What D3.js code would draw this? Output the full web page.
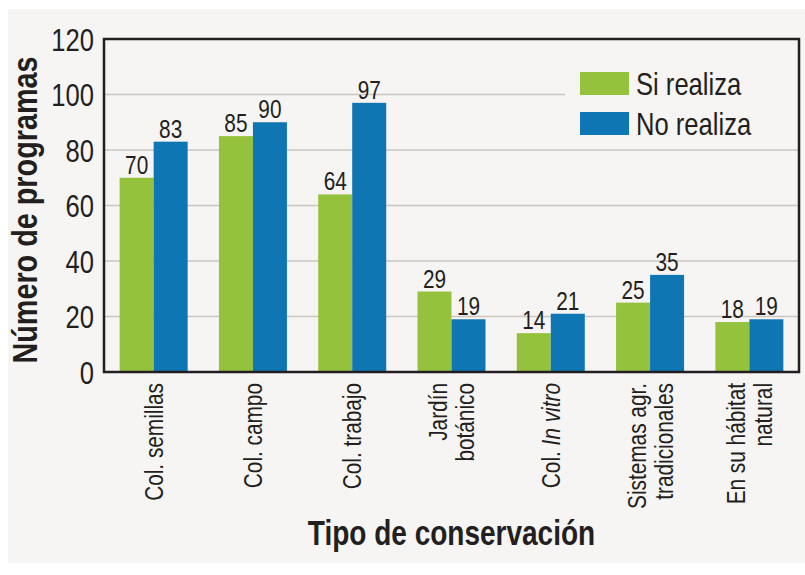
<!DOCTYPE html>
<html>
<head>
<meta charset="utf-8">
<script src="https://cdn.jsdelivr.net/npm/d3@7"></script>
<style>
  body { margin: 0; background: #fff; }
  text { font-family: "Liberation Sans", Arial, sans-serif; fill: #231f20; }
</style>
</head>
<body>
<div id="chart"></div>
<script>
// Data
const categories = ["Col. semillas", "Col. campo", "Col. trabajo", "Jardín botánico",
  "Col. In vitro", "Sistemas agr. tradicionales", "En su hábitat natural"];
// tick labels split into lines, *...* = italic
const tickLabels = [["Col. semillas"], ["Col. campo"], ["Col. trabajo"], ["Jardín", "botánico"],
  ["Col. *In vitro*"], ["Sistemas agr.", "tradicionales"], ["En su hábitat", "natural"]];
const siRealiza = [70, 85, 64, 29, 14, 25, 18];
const noRealiza = [83, 90, 97, 19, 21, 35, 19];
const seriesNames = ["Si realiza", "No realiza"];
const yTicks = [0, 20, 40, 60, 80, 100, 120];

const colors = ["#95c23d", "#0e77b3"];

const W = 805, H = 575;
const plot = { left: 104, right: 799, top: 39, bottom: 372 };
const narrow = 0.8; // the original type is condensed, squeeze the regular face

const svg = d3.select("#chart").append("svg")
  .attr("width", W)
  .attr("height", H);

// light panel behind everything
svg.append("rect")
  .attr("x", 8).attr("y", 9)
  .attr("width", W - 8).attr("height", 554)
  .attr("fill", "#f6f5f3");

const y = d3.scaleLinear().domain([0, 120]).range([plot.bottom, plot.top]);
const x = d3.scaleBand().domain(categories).range([plot.left, plot.right]).padding(0);
const barW = 34;
const xs = d3.scaleBand().domain(seriesNames)
  .range([x.bandwidth() / 2 - barW, x.bandwidth() / 2 + barW]).padding(0);

// legend position
const legendX = 580, legendY = 72;

// gridlines (the 100 line stops before the legend)
svg.append("g").selectAll("line")
  .data(yTicks.filter(t => t > 0 && t < 120))
  .join("line")
  .attr("x1", plot.left)
  .attr("x2", d => d === 100 ? legendX - 15 : plot.right)
  .attr("y1", d => y(d))
  .attr("y2", d => y(d))
  .attr("stroke", "#cbc6c2")
  .attr("stroke-width", 1.5);

// bars
const rows = categories.map((c, i) => ({ cat: c, values: [siRealiza[i], noRealiza[i]] }));

const groups = svg.append("g").selectAll("g")
  .data(rows)
  .join("g")
  .attr("transform", d => `translate(${x(d.cat)},0)`);

groups.selectAll("rect")
  .data(d => d.values.map((v, j) => ({ key: seriesNames[j], v, j })))
  .join("rect")
  .attr("x", d => xs(d.key))
  .attr("width", xs.bandwidth())
  .attr("y", d => y(d.v))
  .attr("height", d => y(0) - y(d.v))
  .attr("fill", d => colors[d.j]);

groups.selectAll("text")
  .data(d => d.values.map((v, j) => ({ key: seriesNames[j], v, j })))
  .join("text")
  .attr("transform", d => `translate(${xs(d.key) + xs.bandwidth() / 2},${y(d.v) - 4}) scale(${narrow},1)`)
  .attr("text-anchor", "middle")
  .style("font-size", "26px")
  .text(d => d.v);

// frame around plot
svg.append("rect")
  .attr("x", plot.left).attr("y", plot.top)
  .attr("width", plot.right - plot.left)
  .attr("height", plot.bottom - plot.top)
  .attr("fill", "none")
  .attr("stroke", "#231f20")
  .attr("stroke-width", 2.5);

// y axis labels
const yAxis = svg.append("g")
  .attr("transform", `translate(${plot.left},0)`)
  .call(d3.axisLeft(y).tickValues(yTicks).tickSize(0).tickPadding(10));
yAxis.select(".domain").remove();
yAxis.selectAll("text")
  .attr("x", null)
  .attr("transform", `translate(-10,1) scale(${narrow},1)`)
  .style("font-size", "32px")
  .style("font-family", null)
  .attr("fill", "#231f20");

// x axis labels (rotated, multi-line)
const xLab = svg.append("g").selectAll("g")
  .data(categories)
  .join("g")
  .attr("transform", d => `translate(${x(d) + x.bandwidth() / 2},383) rotate(-90) scale(${narrow},1)`);

xLab.each(function (d, i) {
  const lines = tickLabels[i];
  const t = d3.select(this).append("text")
    .attr("text-anchor", "end")
    .style("font-size", "26px");
  lines.forEach((line, k) => {
    const off = (k - (lines.length - 1) / 2) * 27;
    const parts = line.split("*");
    parts.forEach((p, pi) => {
      if (!p) return;
      const ts = t.append("tspan").text(p);
      if (pi % 2 === 1) ts.style("font-style", "italic");
      if (pi === 0 || (pi === 1 && !parts[0])) {
        ts.attr("x", 0).attr("y", off).attr("dy", "0.35em");
      }
    });
  });
});

// legend
const legend = svg.append("g").selectAll("g")
  .data(seriesNames)
  .join("g")
  .attr("transform", (d, i) => `translate(${legendX},${legendY + i * 40})`);
legend.append("rect")
  .attr("width", 49).attr("height", 23)
  .attr("fill", (d, i) => colors[i]);
legend.append("text")
  .attr("transform", `translate(56,23) scale(${narrow},1)`)
  .style("font-size", "32px")
  .text(d => d);

// axis titles
svg.append("text")
  .attr("transform", `translate(${(plot.left + plot.right) / 2},545) scale(${narrow},1)`)
  .attr("text-anchor", "middle")
  .style("font-size", "35px")
  .style("font-weight", "bold")
  .text("Tipo de conservación");

svg.append("text")
  .attr("transform", `translate(37,210) rotate(-90) scale(${narrow},1)`)
  .attr("text-anchor", "middle")
  .style("font-size", "36px")
  .style("font-weight", "bold")
  .text("Número de programas");
</script>
</body>
</html>
